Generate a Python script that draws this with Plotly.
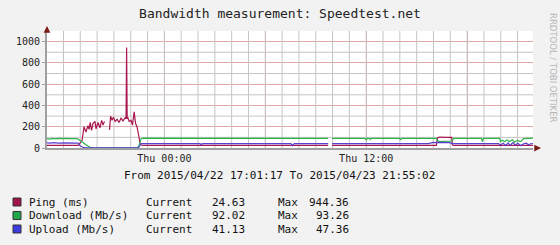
import plotly.graph_objects as go
import pandas as pd

# ---------------- data ----------------
start_time = "2015-04-22 17:01:17"
end_time = "2015-04-23 21:55:02"

# minutes since start_time, values
ping_min = [0, 20, 40, 60, 80, 100, 111, 125, 132, 139, 146, 150, 154, 159, 164, 171, 175, 182, 189, 195,
            200, 205, 209, 223, 227, 232, 237, 243, 250, 257, 264, 271, 279, 282, 284, 286, 288, 293, 300,
            305, 311, 316, 321, 327, 332, 336, 343, 500, 700, 900, 1003, 1010, 1017, 1200, 1389, 1393,
            1400, 1420, 1436, 1444, 1446, 1450, 1600, 1734]
ping_val = [24, 26, 23, 25, 24, 26, 25, 70, 200, 150, 210, 175, 240, 165, 230, 250, 180, 240, 190, 260,
            215, 250, None, 170, 300, 260, 290, 250, 270, 240, 280, 255, 285, 275, 944, 275, 290, 250, 260,
            215, 340, 230, 200, 120, 40, 28, 25, 25, 24, 25, 25, None, 25, 24, 25, 95,
            103, 100, 104, 100, 30, 25, 24, 24.63]

dl_min = [0, 11, 18, 29, 39, 54, 68, 82, 104, 111, 118, 125, 132, 139, 146, 154, 164, 200, 250, 300, 321,
          327, 332, 336, 343, 546, 870, 875, 880, 1003, 1010, 1017, 1135, 1139, 1143, 1150, 1153, 1157,
          1258, 1261, 1265, 1389, 1393, 1400, 1420, 1436, 1446, 1450, 1550, 1553, 1557, 1615, 1618, 1625,
          1633, 1640, 1650, 1660, 1668, 1678, 1690, 1700, 1734]
dl_val = [88, 84, 90, 86, 90, 87, 90, 88, 89, 84, 70, 60, 45, 30, 15, 5, 2, 1, 2, 1, 2,
          15, 60, 88, 92, 91, 92, 88, 92, 91, None, 91, 91, 78, 91, 91, 80, 91,
          91, 75, 91, 90, 70, 60, 63, 62, 66, 90, 91, 60, 91, 90, 60, 72,
          58, 75, 60, 78, 55, 72, 60, 88, 92.02]

ul_min = [0, 11, 25, 40, 60, 80, 100, 111, 118, 125, 132, 146, 200, 300, 321, 327, 332, 336, 546, 550, 555,
          870, 875, 882, 1003, 1010, 1017, 1361, 1375, 1389, 1400, 1436, 1446, 1610, 1618, 1628, 1635,
          1645, 1652, 1662, 1670, 1680, 1690, 1700, 1710, 1718, 1725, 1734]
ul_val = [48, 45, 50, 46, 48, 45, 47, 45, 20, 8, 3, 1, 0, 1, 1, 5, 25, 42, 42, 32, 42,
          42, 22, 42, 42, None, 42, 42, 50, 55, 52, 50, 42, 41, 30, 45, 22,
          48, 25, 50, 28, 45, 22, 40, 45, 30, 40, 41.13]

# major x grid every 6 h; only the 12-hourly ones carry a label
x_label_alias = {"Wed 18:00": " ", "Thu 06:00": " ", "Thu 18:00": " "}
x_minor_hours = ["2015-04-22 %02d:00" % h for h in range(18, 24)] + \
                ["2015-04-23 %02d:00" % h for h in range(0, 22)]
y_minor_grid = [100, 300, 500, 700, 900]
y_max = 1100

series_names = ["Ping (ms)", "Download (Mb/s)", "Upload (Mb/s)"]
current_vals = ["24.63", "92.02", "41.13"]
max_vals = ["944.36", "93.26", "47.36"]
line_colors = ["#a8174f", "#2bb24a", "#5a40d0"]
swatch_colors = ["#a3144f", "#22a84a", "#3c3ce0"]

# ---------------- figure ----------------
t0 = pd.Timestamp(start_time)
def times(mins):
    return [(t0 + pd.Timedelta(minutes=m)).strftime("%Y-%m-%d %H:%M:%S") for m in mins]

W, H = 560, 245
L, R, T, B = 47, 27, 31, 97
PW, PH = W - L - R, H - T - B
def px(x):
    return (x - L) / PW
def py(y):
    return (H - B - y) / PH

mono = "DejaVu Sans Mono"
minor_col = "#c8c4c4"

fig = go.Figure()
# minor grid (hourly / every 100) drawn first, beneath the data
gx, gy = [], []
for t in x_minor_hours:
    gx += [t, t, None]
    gy += [0, y_max, None]
fig.add_trace(go.Scatter(x=gx, y=gy, mode="lines", line=dict(color=minor_col, width=1),
                         showlegend=False, hoverinfo="skip", connectgaps=False))
hx, hy = [], []
for v in y_minor_grid:
    hx += [start_time, end_time, None]
    hy += [v, v, None]
fig.add_trace(go.Scatter(x=hx, y=hy, mode="lines", line=dict(color=minor_col, width=1),
                         showlegend=False, hoverinfo="skip", connectgaps=False))

for mins, vals, col, name in [(ping_min, ping_val, line_colors[0], series_names[0]),
                              (dl_min, dl_val, line_colors[1], series_names[1]),
                              (ul_min, ul_val, line_colors[2], series_names[2])]:
    fig.add_trace(go.Scatter(x=times(mins), y=vals, mode="lines", name=name,
                             line=dict(color=col, width=1.2), connectgaps=False,
                             showlegend=False, hoverinfo="skip"))

fig.update_layout(
    width=W, height=H,
    margin=dict(l=L, r=R, t=T, b=B),
    paper_bgcolor="#f2f2f2", plot_bgcolor="#ffffff",
    title=dict(text="Bandwidth measurement: Speedtest.net", x=0.5, xanchor="center",
               y=1 - 13 / H, yanchor="middle", font=dict(family=mono, size=13, color="#222222")),
    font=dict(family=mono, size=10, color="#222222"),
)
fig.update_xaxes(
    type="date", range=[start_time, end_time],
    tickmode="linear", tick0="2015-04-22 00:00", dtick=6 * 3600000,
    tickformat="%a %H:%M", labelalias=x_label_alias,
    showgrid=True, gridcolor="#e0a8a8", gridwidth=1,
    showline=True, linecolor="#a0a0a0", linewidth=2,
    ticks="", zeroline=False, tickfont=dict(family=mono, size=10, color="#222222"),
)
fig.update_yaxes(
    range=[0, y_max], tickmode="linear", tick0=0, dtick=200,
    showgrid=True, gridcolor="#e0a8a8", gridwidth=1,
    showline=True, linecolor="#a0a0a0", linewidth=2,
    ticks="outside", ticklen=3, tickcolor="#a0a0a0", zeroline=False,
    tickfont=dict(family=mono, size=10, color="#222222"),
)

shapes = []
ann = []
# axis arrows
ann.append(dict(xref="paper", yref="paper", x=px(47), y=py(26), ax=0, ay=6, text="", showarrow=True,
                arrowhead=2, arrowsize=0.9, arrowwidth=1.5, arrowcolor="#7a1a1a"))
ann.append(dict(xref="paper", yref="paper", x=px(541), y=py(148), ax=-7, ay=0, text="", showarrow=True,
                arrowhead=2, arrowsize=0.9, arrowwidth=1.5, arrowcolor="#7a1a1a"))
# watermark
ann.append(dict(xref="paper", yref="paper", x=px(553), y=py(68), text="RRDTOOL / TOBI OETIKER",
                textangle=90, showarrow=False, xanchor="center", yanchor="middle",
                font=dict(family="DejaVu Sans", size=8.5, color="#b8b8b8")))
# from / to
ann.append(dict(xref="paper", yref="paper", x=px(279), y=py(175), showarrow=False,
                text=f"From {start_time.replace('-', '/')} To {end_time.replace('-', '/')}",
                xanchor="center", yanchor="middle", font=dict(family=mono, size=11, color="#111111")))

row_y = [202, 215.5, 229]
for i in range(3):
    yy = row_y[i]
    shapes.append(dict(type="rect", xref="paper", yref="paper", x0=px(13), x1=px(21),
                       y0=py(yy + 4), y1=py(yy - 4), fillcolor=swatch_colors[i],
                       line=dict(color="#333333", width=1)))
    f = dict(family=mono, size=11, color="#111111")
    ann.append(dict(xref="paper", yref="paper", x=px(27), y=py(yy), text=series_names[i], showarrow=False,
                    xanchor="left", yanchor="middle", font=f))
    ann.append(dict(xref="paper", yref="paper", x=px(144), y=py(yy), text="Current", showarrow=False,
                    xanchor="left", yanchor="middle", font=f))
    ann.append(dict(xref="paper", yref="paper", x=px(247), y=py(yy), text=current_vals[i], showarrow=False,
                    xanchor="right", yanchor="middle", font=f))
    ann.append(dict(xref="paper", yref="paper", x=px(276), y=py(yy), text="Max", showarrow=False,
                    xanchor="left", yanchor="middle", font=f))
    ann.append(dict(xref="paper", yref="paper", x=px(351), y=py(yy), text=max_vals[i], showarrow=False,
                    xanchor="right", yanchor="middle", font=f))

fig.update_layout(annotations=ann, shapes=shapes)
fig.write_html("out.html")
